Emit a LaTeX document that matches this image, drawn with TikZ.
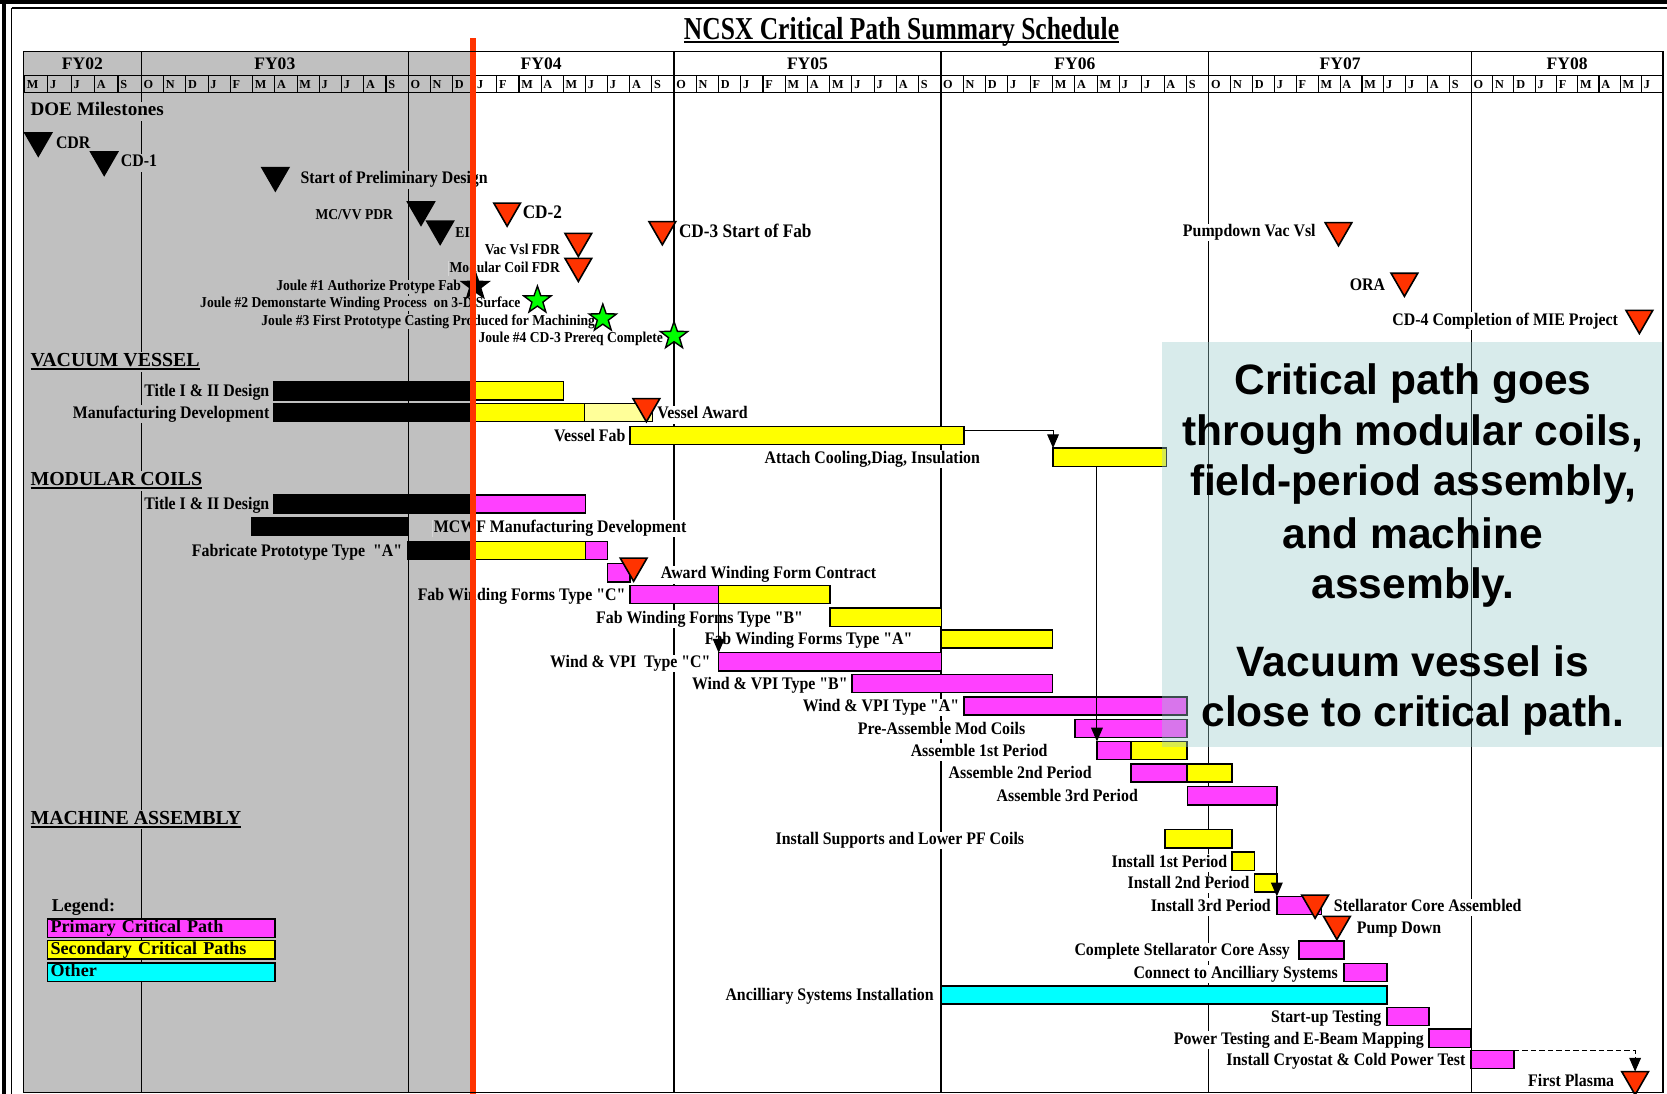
\documentclass[tikz,border=0pt]{standalone}
\usepackage{fontspec}
\setmainfont{Liberation Serif}[Ligatures=TeXOff]
\newfontfamily\lblfam{Liberation Serif}[Ligatures=TeXOff, FakeStretch=0.9]
\newfontfamily\cpsans{Liberation Sans}
\newfontfamily\ttlfam{Liberation Serif}[FakeStretch=0.8]
\usetikzlibrary{shapes.geometric,arrows.meta}
\definecolor{bggray}{RGB}{192,192,192}
\definecolor{mag}{RGB}{255,64,255}
\definecolor{yel}{RGB}{255,255,0}
\definecolor{ltyel}{RGB}{255,255,153}
\definecolor{cyn}{RGB}{0,255,255}
\definecolor{redm}{RGB}{255,51,0}
\definecolor{grn}{RGB}{0,255,0}
\definecolor{boxc}{RGB}{153,204,204}
\newsavebox\ulbox
\newcommand\myul[3]{\sbox\ulbox{#3}\rlap{\rule[-#1]{\wd\ulbox}{#2}}\usebox\ulbox}
\newcommand\xLbl{\lblfam\fontsize{16.6}{18}\selectfont\bfseries}
\newcommand\xSm{\lblfam\fontsize{14.2}{16}\selectfont\bfseries}
\newcommand\xBig{\lblfam\fontsize{18}{20}\selectfont\bfseries}
\newcommand\xSec{\fontsize{18.7}{21}\selectfont\bfseries}
\newcommand\xDoe{\fontsize{18}{21}\selectfont\bfseries}
\newcommand\xTtl{\ttlfam\fontsize{30}{34}\selectfont\bfseries}
\newcommand\xFy{\fontsize{16.5}{18}\selectfont\bfseries}
\newcommand\xMon{\fontsize{11.5}{13}\selectfont\bfseries}
\newcommand\xLeg{\fontsize{17}{19}\selectfont\bfseries}
\newcommand\xCp{\cpsans\fontsize{40}{48}\selectfont\bfseries}
\tikzset{
 lbl/.style={font=\xLbl, inner xsep=1.5pt, inner ysep=0.8pt, text height=11.5pt, text depth=3.6pt, fill=white},
 lblg/.style={lbl, fill=bggray},
 lblx/.style={lbl, path picture={
   \fill[bggray] (path picture bounding box.south west) rectangle (path picture bounding box.north west -| rl);
   \fill[white] (path picture bounding box.north east) rectangle (path picture bounding box.south east -| rl);}},
 sml/.style={font=\xSm, inner xsep=1.2pt, inner ysep=0.5pt, text height=10pt, text depth=3.1pt, fill=white},
 smlg/.style={sml, fill=bggray},
 smlx/.style={sml, path picture={
   \fill[bggray] (path picture bounding box.south west) rectangle (path picture bounding box.north west -| rl);
   \fill[white] (path picture bounding box.north east) rectangle (path picture bounding box.south east -| rl);}},
 barst/.style={draw=black, line width=1.3, minimum height=17, inner sep=0, outer sep=0},
 tri/.style={regular polygon, regular polygon sides=3, shape border rotate=180, minimum size=29, inner sep=0, outer sep=0, draw=black, line width=1.5},
 jstar/.style={star, star points=5, star point ratio=2.5, minimum size=27, inner sep=0, outer sep=0, draw=black, line width=1.3},
 conn/.style={line width=1, -{Triangle[width=11pt,length=13pt]}},
 yrline/.style={line width=1.3},
 mline/.style={line width=1},
 mon/.style={font=\xMon, inner sep=0, anchor=base west},
 fy/.style={font=\xFy, inner sep=0, anchor=base},
 sec/.style={font=\xSec, inner sep=1.5pt, fill=bggray, anchor=base west},
 legbox/.style={draw=black, line width=1.3, minimum height=17.2, inner xsep=3pt, inner ysep=0pt, text width=208pt, align=left, anchor=west, font=\xLeg, text height=11.5pt, text depth=3.5pt},
 cpt/.style={font=\xCp, inner sep=0, anchor=base},
}
\newcommand\LE[5][lbl]{\node[#1,anchor=base east] (#2) at (#3,#4+5.5) {#5};}
\newcommand\LW[5][lbl]{\node[#1,anchor=base west] (#2) at (#3,#4+5.5) {#5};}
\newcommand\BR[5]{\node[barst,fill=#2,minimum width={#4-#3},anchor=west] (#1) at (#3,#5) {};}
\newcommand\TRI[4]{\node[tri,fill=#4] (#1) at (#2,#3+7.25) {};}
\begin{document}
\begin{tikzpicture}[x=1pt,y=-1pt]
\useasboundingbox (0,0) rectangle (1568,1029);
\fill[white] (0,0) rectangle (1568,1029);
\coordinate (rl) at (445,0);
\fill[bggray] (22,48.6) rectangle (445,1027.5);
% year lines
\foreach \x in {133,384,634,885,1137,1384} \draw[yrline] (\x,48.6) -- (\x,1027.5);
% header
\draw[yrline] (22,71) -- (1564,71);
\draw[yrline] (22,87.2) -- (1564,87.2);
\node[fy] (fy02) at (77.5,65.5) {FY02};
\node[fy] (fy03) at (258.5,65.5) {FY03};
\node[fy] (fy04) at (509,65.5) {FY04};
\node[fy] (fy05) at (759.5,65.5) {FY05};
\node[fy] (fy06) at (1011,65.5) {FY06};
\node[fy] (fy07) at (1260.5,65.5) {FY07};
\node[fy] (fy08) at (1474,65.5) {FY08};
\foreach \m [count=\i from 0] in {M,J,J,A,S} {
  \pgfmathsetmacro\cx{23+22*\i}
  \draw[mline] (\cx,71) -- (\cx,87.2);
  \node[mon] (m0-\i) at (\cx+2,83) {\m};
}
\foreach \ys/\ye [count=\n] in {133/384,384/634,634/885,885/1137,1137/1384} {
  \foreach \m [count=\i from 0] in {O,N,D,J,F,M,A,M,J,J,A,S} {
    \pgfmathsetmacro\cx{\ys+\i*(\ye-\ys)/12}
    \draw[mline] (\cx,71) -- (\cx,87.2);
    \node[mon] (m\n-\i) at (\cx+2,83) {\m};
  }
}
\foreach \m [count=\i from 0] in {O,N,D,J,F,M,A,M,J} {
  \pgfmathsetmacro\cx{1384+20*\i}
  \draw[mline] (\cx,71) -- (\cx,87.2);
  \node[mon] (m6-\i) at (\cx+2,83) {\m};
}
% title
\node[font=\xTtl, inner sep=0, anchor=base] (title) at (848,37) {\myul{3.5pt}{2pt}{NCSX Critical Path Summary Schedule}};
% DOE milestones labels
\node[lblg, font=\xDoe, text height=12pt, text depth=3.8pt, anchor=base west] (doe) at (27,108.8) {DOE Milestones};
\node[lblg,anchor=base west] (lcdr) at (51,140) {CDR};
\node[lblg,anchor=base west] (lcd1) at (112,157) {CD-1};
\node[lblx,anchor=base west] (lsopd) at (281,173) {Start of Preliminary Design};
\node[smlg,anchor=base east] (lmcvv) at (371,206) {MC/VV PDR};
\node[smlg,anchor=base west] (lei) at (427,223.5) {EI};
\node[lbl,font=\xBig,anchor=base west] (lcd2) at (490,205.3) {CD-2};
\node[lbl,font=\xBig,anchor=base west] (lcd3) at (637,223) {CD-3 Start of Fab};
\node[sml,anchor=base east] (lvvfdr) at (528,239.2) {Vac Vsl FDR};
\node[smlx,anchor=base east] (lmcfdr) at (528,256) {Modular Coil FDR};
\node[smlg,anchor=base east] (lj1) at (435,273.4) {Joule \#1 Authorize Protype Fab};
\node[smlx,anchor=base east] (lj2) at (491,289) {Joule \#2 Demonstarte Winding Process~ on 3-D Surface};
\node[smlx,anchor=base east] (lj3) at (561,305.7) {Joule \#3 First Prototype Casting Produced for Machining};
\node[sml,anchor=base east] (lj4) at (625,322) {Joule \#4 CD-3 Prereq Complete};
\node[lbl,anchor=base west] (lpdv) at (1111,222.6) {Pumpdown Vac Vsl};
\node[lbl,anchor=base west] (lora) at (1268,272.8) {ORA};
\node[lbl,anchor=base west] (lcd4) at (1308,305.7) {CD-4 Completion of MIE Project};
% section headers
\node[sec] (hvv) at (27,345) {\myul{3pt}{1.8pt}{VACUUM VESSEL}};
\node[sec] (hmc) at (27,457) {\myul{3pt}{1.8pt}{MODULAR COILS}};
\node[sec] (hma) at (27,775.5) {\myul{3pt}{1.8pt}{MACHINE ASSEMBLY}};
% vacuum vessel
\LE[lblg]{lvvt}{255}{367.6}{Title I \& II Design}
\BR{vvtk}{black}{257.8}{445}{367.6}
\BR{vvty}{yel}{445}{530}{367.6}
\LE[lblg]{lvvm}{255}{388}{Manufacturing Development}
\BR{vvmk}{black}{257.8}{445}{388}
\BR{vvmy}{yel}{445}{550}{388}
\BR{vvml}{ltyel}{550}{614}{388}
\LW[lbl]{lvaw}{616.6}{388.5}{Vessel Award}
\LE[lbl]{lvvf}{590}{409.5}{Vessel Fab}
\BR{vvf}{yel}{592.5}{906.7}{409.5}
\LW[lbl]{latt}{717.5}{430}{Attach Cooling,Diag, Insulation}
\BR{att}{yel}{990.5}{1097}{430}
% modular coils
\LE[lblg]{lmct}{255}{474}{Title I \& II Design}
\BR{mctk}{black}{257.8}{445}{474}
\BR{mctm}{mag}{445}{551}{474}
\BR{mcwf}{black}{236.5}{383.4}{495}
\LW[lblx]{lmcwf}{406.5}{495.5}{MCWF Manufacturing Development}
\LE[lblg]{lfpa}{380}{517.6}{Fabricate Prototype Type~ "A"}
\BR{fpak}{black}{383.4}{445}{517.6}
\BR{fpay}{yel}{445}{550.6}{517.6}
\BR{fpam}{mag}{550.6}{571.6}{517.6}
\BR{awdm}{mag}{571.6}{592.6}{538.8}
\LW[lbl]{lawd}{620}{539}{Award Winding Form Contract}
\LE[lblx]{lfwc}{590}{559}{Fab Winding Forms Type "C"}
\BR{fwcm}{mag}{592.6}{676}{559}
\BR{fwcy}{yel}{676}{780.6}{559}
\LE[lbl]{lfwb}{757}{580.5}{Fab Winding Forms Type "B"}
\BR{fwb}{yel}{780.6}{885.6}{580.5}
\LE[lbl]{lfwa}{860}{601}{Fab Winding Forms Type "A"}
\BR{fwa}{yel}{885.6}{990}{601}
\LE[lbl]{lwvc}{670}{622.5}{Wind \& VPI~ Type "C"}
\BR{wvc}{mag}{676}{885.6}{622.5}
\LE[lbl]{lwvb}{799}{643}{Wind \& VPI Type "B"}
\BR{wvb}{mag}{801.5}{990}{643}
\LE[lbl]{lwva}{904}{664}{Wind \& VPI Type "A"}
\BR{wva}{mag}{906.8}{1116.5}{664}
\LE[lbl]{lpam}{966}{685}{Pre-Assemble Mod Coils}
\BR{pam}{mag}{1011}{1116.5}{685}
\LE[lbl]{lasm1}{987}{706}{Assemble 1st Period}
\BR{asm1m}{mag}{1031.8}{1063.8}{706}
\BR{asm1y}{yel}{1063.8}{1116.5}{706}
\LE[lbl]{lasm2}{1028.5}{727}{Assemble 2nd Period}
\BR{asm2m}{mag}{1063.8}{1116.5}{727}
\BR{asm2y}{yel}{1116.5}{1158.7}{727}
\LE[lbl]{lasm3}{1072}{748.5}{Assemble 3rd Period}
\BR{asm3}{mag}{1117}{1201}{748.5}
% machine assembly
\LE[lbl]{lsup}{965}{789}{Install Supports and Lower PF Coils}
\BR{sup}{yel}{1095.7}{1158.7}{789}
\LE[lbl]{linst1}{1156}{810}{Install 1st Period}
\BR{inst1}{yel}{1158.7}{1180}{810}
\LE[lbl]{linst2}{1177}{830.5}{Install 2nd Period}
\BR{inst2}{yel}{1180}{1201}{830.5}
\LE[lbl]{linst3}{1197}{851.7}{Install 3rd Period}
\BR{inst3}{mag}{1201}{1243}{851.7}
\LW[lbl]{lsca}{1253}{852}{Stellarator Core Assembled}
\LW[lbl]{lpd}{1274.6}{873}{Pump Down}
\LE[lbl]{lcsc}{1215}{893.7}{Complete Stellarator Core Assy}
\BR{csc}{mag}{1222}{1264}{893.7}
\LE[lbl]{lcas}{1260}{914.7}{Connect to Ancilliary Systems}
\BR{cas}{mag}{1264}{1304.7}{914.7}
\LE[lbl]{lanc}{880}{936}{Ancilliary Systems Installation}
\BR{anc}{cyn}{885.6}{1304.7}{936}
\LE[lbl]{lsut}{1301}{956}{Start-up Testing}
\BR{sut}{mag}{1304.7}{1344}{956}
\LE[lbl]{lptm}{1341}{976.5}{Power Testing and E-Beam Mapping}
\BR{ptm}{mag}{1344}{1383.6}{976.5}
\LE[lbl]{lcry}{1380}{996.5}{Install Cryostat \& Cold Power Test}
\BR{cryo}{mag}{1383.6}{1424}{996.5}
\LE[lbl]{lfp}{1520}{1016.5}{First Plasma}
% legend
\node[lblg, font=\xLeg, text height=11.5pt, anchor=base west] (lleg) at (47,857.6) {Legend:};
\node[legbox, fill=mag] (leg1) at (44,873) {Primary Critical Path};
\node[legbox, fill=yel] (leg2) at (44,893.5) {Secondary Critical Paths};
\node[legbox, fill=cyn] (leg3) at (44,914.5) {Other};
% milestones (triangles)
\TRI{tcdr}{36}{125}{black}
\TRI{tcd1}{98}{143}{black}
\TRI{tsopd}{259}{157.7}{black}
\TRI{tmcvv}{396}{190}{black}
\TRI{tei}{414}{208}{black}
\TRI{tcd2}{477}{191}{redm}
\TRI{tcd3}{623}{208.5}{redm}
\TRI{tvvfdr}{544}{219.5}{redm}
\TRI{tmcfdr}{544}{243}{redm}
\TRI{tpdv}{1259}{209.4}{redm}
\TRI{tora}{1321}{257}{redm}
\TRI{tcd4}{1542}{292}{redm}
\TRI{tvaw}{608}{375}{redm}
\TRI{tawd}{596}{525}{redm}
\TRI{tsca}{1237}{842}{redm}
\TRI{tpd}{1257.5}{862}{redm}
\TRI{tfp}{1538}{1008}{redm}
% stars
\node[jstar,fill=black] (j1) at (447,269) {};
\node[jstar,fill=grn] (j2) at (505.5,282.5) {};
\node[jstar,fill=grn] (j3) at (567,299.5) {};
\node[jstar,fill=grn] (j4) at (634,316) {};
% connectors
\draw[conn] ([yshift=4.5pt]vvf.east) -| (att.north west);
\draw[conn] (att.south -| asm1m.north west) -- (asm1m.north west);
\draw[conn] (fwcm.south east) -- (wvc.north west);
\draw[conn] (asm3.south east) -- (inst3.north west);
\draw[conn, dash pattern=on 5pt off 3pt] (cryo.north east) -| (tfp.north);
% comment box
\fill[boxc, fill opacity=0.38] (1093,322) rectangle (1564,703);
\node[cpt] (cp1) at (1329,371.5) {Critical path goes};
\node[cpt] (cp2) at (1329,418.6) {through modular coils,};
\node[cpt] (cp3) at (1329,466) {field-period assembly,};
\node[cpt] (cp4) at (1329,515.5) {and machine};
\node[cpt] (cp5) at (1329,562.6) {assembly.};
\node[cpt] (cp6) at (1329,636.4) {Vacuum vessel is};
\node[cpt] (cp7) at (1329,683.5) {close to critical path.};
% status line
\draw[redm, line width=5] (445,36) -- (445,1029);
% frames
\draw[line width=1.5] (22,48.6) rectangle (1564,1027.5);
\draw[line width=3.5] (0,2) -- (1568,2);
\draw[line width=3.5] (4,0) -- (4,1029);
\draw[line width=1.2] (11,7.5) -- (1568,7.5);
\draw[line width=1.2] (11,7.5) -- (11,1029);
\end{tikzpicture}
\end{document}
